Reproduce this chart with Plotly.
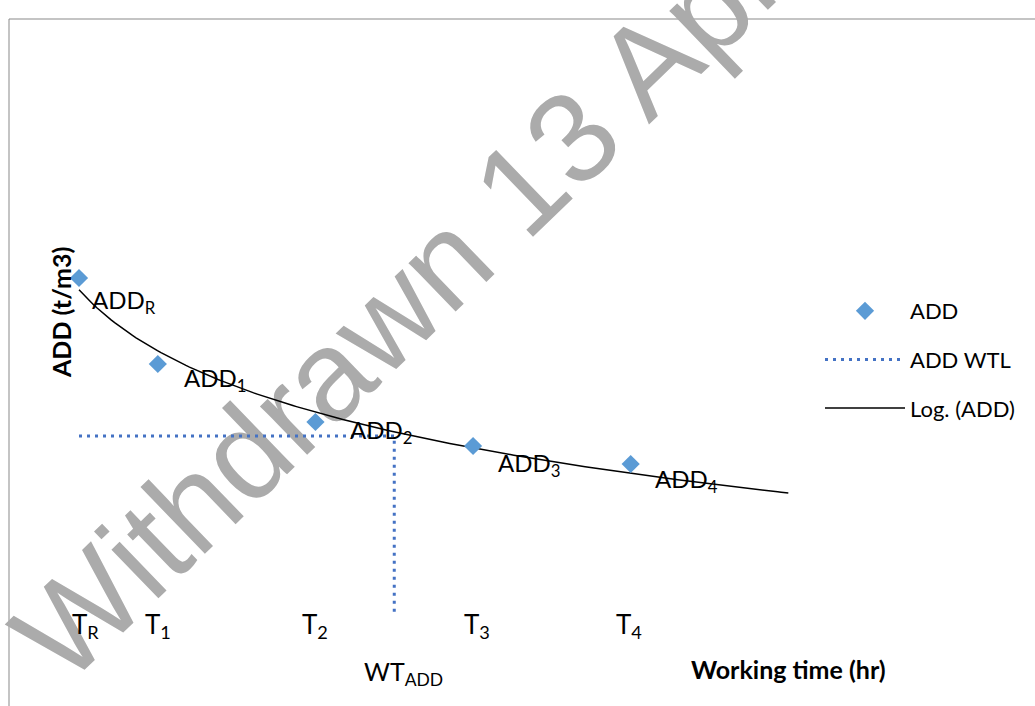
import numpy as np
import plotly.graph_objects as go

# ---------------- data ----------------
time_hr = [1, 2, 4, 6, 8]                      # T_R, T1, T2, T3, T4
add_t_m3 = [2.11, 1.68, 1.39, 1.27, 1.18]      # ADD_R, ADD1 .. ADD4
point_labels = ["ADD<sub>R</sub>", "ADD<sub>1</sub>", "ADD<sub>2</sub>",
                "ADD<sub>3</sub>", "ADD<sub>4</sub>"]
tick_labels = ["T<sub>R</sub>", "T<sub>1</sub>", "T<sub>2</sub>",
               "T<sub>3</sub>", "T<sub>4</sub>"]
wtl_value = 1.32          # ADD working-time limit
wt_add = 5.0              # WT_ADD
wtl_floor = 0.44          # bottom of the vertical WTL drop
trend_forward_to = 10     # trendline forecast end

# ---------------- layout constants ----------------
W, H = 1035, 706
FONT = "Lato, 'Open Sans', sans-serif"

# logarithmic trendline (least squares on ln x, like Excel's Log. trendline)
b, a = np.polyfit(np.log(time_hr), add_t_m3, 1)
xs = np.linspace(time_hr[0], trend_forward_to, 200)
ys = a + b * np.log(xs)

fig = go.Figure()
fig.add_trace(go.Scatter(x=xs, y=ys, mode="lines", name="Log. (ADD)",
                         line=dict(color="black", width=1.5),
                         legendrank=3, legendgroup="c", hoverinfo="skip"))
fig.add_trace(go.Scatter(x=[time_hr[0], wt_add, wt_add],
                         y=[wtl_value, wtl_value, wtl_floor],
                         mode="lines", name="ADD WTL",
                         line=dict(color="#4472C4", width=3, dash="3px,5px"),
                         legendrank=2, legendgroup="b"))
fig.add_trace(go.Scatter(x=time_hr, y=add_t_m3, mode="markers", name="ADD",
                         marker=dict(symbol="diamond", size=14, color="#5B9BD5"),
                         legendrank=1, legendgroup="a"))

ann = []
# point labels
offsets = [(11, 20), (24, 12), (33, 6), (23, 15), (22, 13)]
for x, y, t, (dx, dy) in zip(time_hr, add_t_m3, point_labels, offsets):
    ann.append(dict(x=x, y=y, xref="x", yref="y", text=t, showarrow=False,
                    xanchor="left", yanchor="middle", xshift=dx, yshift=-dy - 3,
                    font=dict(family=FONT, size=24, color="black")))
# time labels
tshift = [6, 0, 0, 4, -2]
for x, t, s in zip(time_hr, tick_labels, tshift):
    ann.append(dict(x=x, y=1 - 625 / H, xref="x", yref="paper", text=t,
                    showarrow=False, xanchor="center", yanchor="middle", xshift=s,
                    font=dict(family=FONT, size=26, color="black")))
ann.append(dict(x=wt_add, y=1 - 673 / H, xref="x", yref="paper",
                text="WT<sub>ADD</sub>", showarrow=False, xanchor="center",
                yanchor="middle", xshift=9,
                font=dict(family=FONT, size=25, color="black")))
ann.append(dict(x=788 / W, y=1 - 669 / H, xref="paper", yref="paper",
                text="<b>Working time (hr)</b>", showarrow=False,
                xanchor="center", yanchor="middle",
                font=dict(family=FONT, size=25, color="black")))
ann.append(dict(x=61 / W, y=1 - 313 / H, xref="paper", yref="paper",
                text="<b>ADD (t/m3)</b>", showarrow=False, textangle=-90,
                xanchor="center", yanchor="middle",
                font=dict(family=FONT, size=25, color="black")))

WM_X, WM_Y = 410, 277
shapes = [
    # chart frame (top and left edges visible)
    dict(type="rect", xref="paper", yref="paper", x0=9 / W, x1=1.2,
         y0=-0.2, y1=1 - 19 / H, line=dict(color="#898989", width=1),
         layer="below"),
    # watermark, below the data
    dict(type="rect", xref="paper", yref="paper",
         x0=(WM_X - 5) / W, x1=(WM_X + 5) / W,
         y0=1 - (WM_Y + 5) / H, y1=1 - (WM_Y - 5) / H,
         line=dict(width=0), layer="below",
         label=dict(text="Withdrawn 13 April", textangle=-44,
                    textposition="middle center",
                    font=dict(family="Arial", size=128, color="#ABABAB"))),
]

fig.update_layout(
    width=W, height=H,
    margin=dict(l=0, r=0, t=0, b=0),
    paper_bgcolor="white", plot_bgcolor="white",
    xaxis=dict(range=[-0.0025, 13.13], visible=False),
    yaxis=dict(range=[-0.03, 3.5], visible=False),
    showlegend=True,
    legend=dict(x=820 / W, y=1 - 290 / H, xanchor="left", yanchor="top",
                itemwidth=80, tracegroupgap=17, bgcolor="rgba(0,0,0,0)",
                font=dict(family=FONT, size=22, color="black")),
    annotations=ann,
    shapes=shapes,
)

fig.write_html("out.html", config={"displayModeBar": False},
               post_script="document.body.style.margin='0';"
                           "document.body.style.overflow='hidden';")
